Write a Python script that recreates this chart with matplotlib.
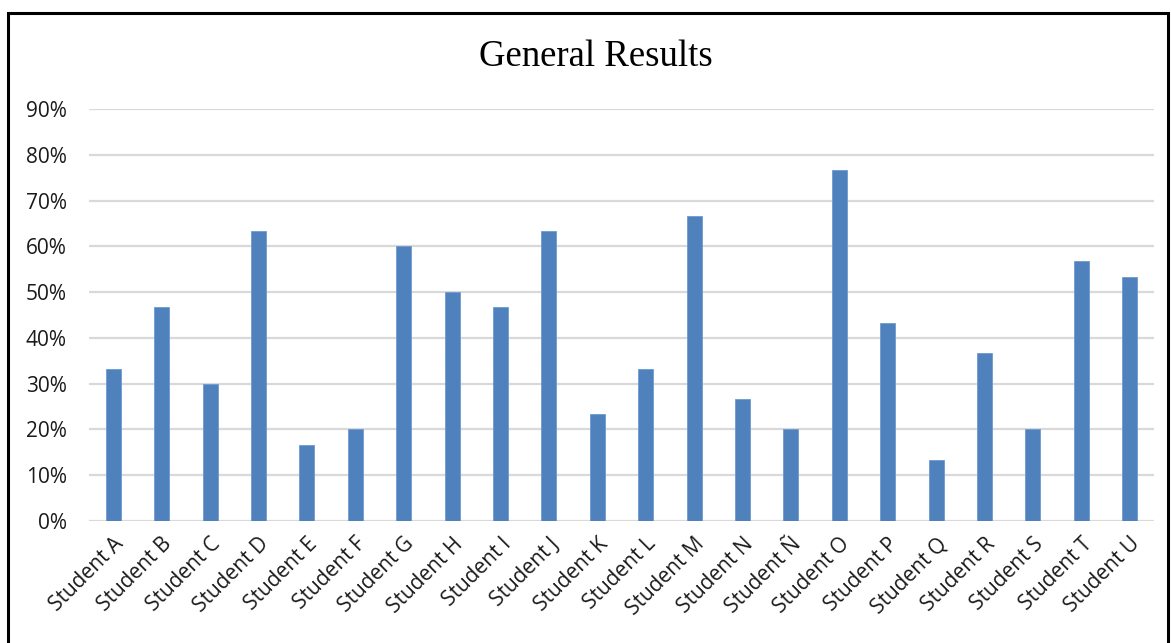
import matplotlib
matplotlib.use("Agg")
import matplotlib.pyplot as plt
from matplotlib.patches import Rectangle
from matplotlib.ticker import FuncFormatter, MultipleLocator

students = ["Student A", "Student B", "Student C", "Student D", "Student E", "Student F",
            "Student G", "Student H", "Student I", "Student J", "Student K", "Student L",
            "Student M", "Student N", "Student Ñ", "Student O", "Student P", "Student Q",
            "Student R", "Student S", "Student T", "Student U"]
scores = [33.3, 46.7, 30.0, 63.3, 16.7, 20.0, 60.0, 50.0, 46.7, 63.3, 23.3, 33.3,
          66.7, 26.7, 20.0, 76.7, 43.3, 13.3, 36.7, 20.0, 56.7, 53.3]

W, H = 1171, 643
fig = plt.figure(figsize=(W / 100, H / 100), dpi=100)
ax = fig.add_axes([89 / W, 1 - 521 / H, (1154 - 89) / W, (521 - 109) / H])

x = range(len(students))
ax.bar(x, scores, width=0.31, color="#4F81BD", edgecolor="#6F9AD0", linewidth=0.6, zorder=3)

ax.set_ylim(0, 90)
ax.set_xlim(-0.5, len(students) - 0.5)
ax.yaxis.set_major_locator(MultipleLocator(10))
ax.yaxis.set_major_formatter(FuncFormatter(lambda v, p: f"{v:.0f}%"))
ax.grid(axis="y", color="#D9D9D9", linewidth=1.6, zorder=0)
for s in ax.spines.values():
    s.set_visible(False)
ax.tick_params(axis="both", length=0, labelsize=15, colors="#1a1a1a")
ax.tick_params(axis="y", pad=16)
ax.set_xticks(list(x))
ax.set_xticklabels(students, rotation=45, ha="right", rotation_mode="anchor",
                   family="Open Sans", fontsize=15)
for lbl in ax.get_yticklabels():
    lbl.set_family("Open Sans")
ax.tick_params(axis="x", pad=9)

fig.text(596 / W, 1 - 57 / H, "General Results", ha="center", va="center",
         family="Liberation Serif", fontsize=26.5, color="black")

fig.patches.append(Rectangle((8 / W, -0.05), (1168 - 8) / W, 1.05 - 12.5 / H,
                             transform=fig.transFigure, fill=False,
                             edgecolor="black", linewidth=2.2))

fig.savefig("out.png", dpi=100)
